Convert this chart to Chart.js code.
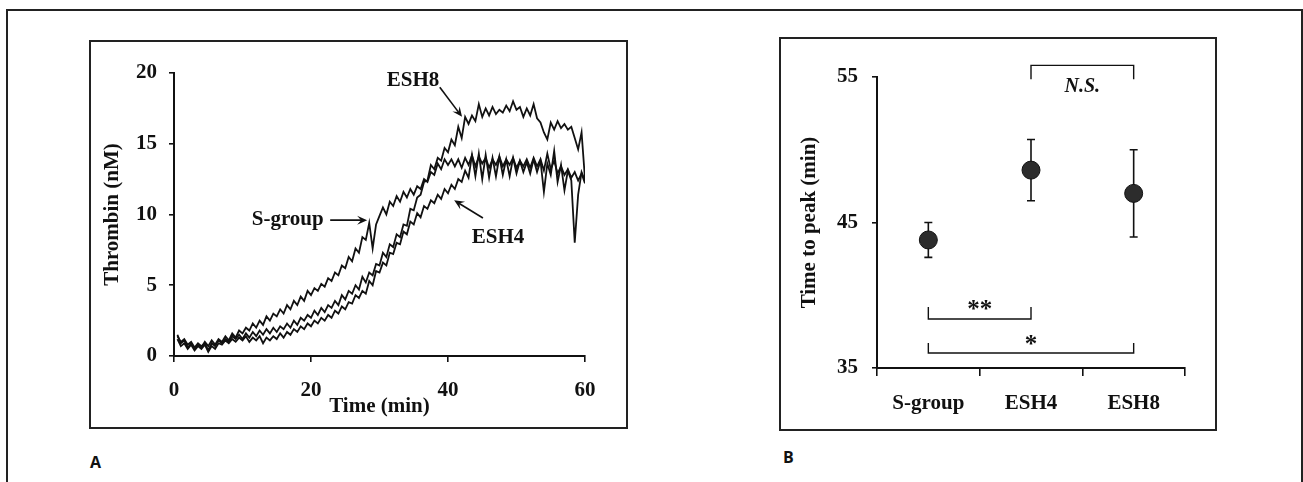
<!DOCTYPE html>
<html>
<head>
<meta charset="utf-8">
<script src="https://cdn.jsdelivr.net/npm/chart.js@4.4.0/dist/chart.umd.min.js"></script>
<style>
  body { margin: 0; background: #fff; width: 1303px; height: 482px; overflow: hidden; position: relative; }
  .frame { position: absolute; left: 6px; top: 9px; width: 1293px; height: 480px; border: 2px solid #222; border-bottom: none; }
  .box { position: absolute; border: 2px solid #222; box-sizing: border-box; }
  #boxA { left: 89px; top: 40px; width: 539px; height: 389px; }
  #boxB { left: 779px; top: 37px; width: 438px; height: 394px; }
  canvas { position: absolute; }
  #chartA { left: 91px; top: 41px; }
  #chartB { left: 780px; top: 38px; }
  .tag { position: absolute; font: bold 16px "Open Sans", sans-serif; color: #111; }
</style>
</head>
<body>
<div class="frame"></div>
<div class="box" id="boxA"></div>
<div class="box" id="boxB"></div>
<canvas id="chartA" width="536" height="387"></canvas>
<canvas id="chartB" width="436" height="392"></canvas>
<div class="tag" style="left:90px; top:451px;">A</div>
<div class="tag" style="left:783px; top:446px;">B</div>
<script>
// ---- panel A: thrombin generation curves ----
const timeMin = [
  0.5, 1, 1.5, 2, 2.5, 3, 3.5, 4, 4.5, 5,
  5.5, 6, 6.5, 7, 7.5, 8, 8.5, 9, 9.5, 10,
  10.5, 11, 11.5, 12, 12.5, 13, 13.5, 14, 14.5, 15,
  15.5, 16, 16.5, 17, 17.5, 18, 18.5, 19, 19.5, 20,
  20.5, 21, 21.5, 22, 22.5, 23, 23.5, 24, 24.5, 25,
  25.5, 26, 26.5, 27, 27.5, 28, 28.5, 29, 29.5, 30,
  30.5, 31, 31.5, 32, 32.5, 33, 33.5, 34, 34.5, 35,
  35.5, 36, 36.5, 37, 37.5, 38, 38.5, 39, 39.5, 40,
  40.5, 41, 41.5, 42, 42.5, 43, 43.5, 44, 44.5, 45,
  45.5, 46, 46.5, 47, 47.5, 48, 48.5, 49, 49.5, 50,
  50.5, 51, 51.5, 52, 52.5, 53, 53.5, 54, 54.5, 55,
  55.5, 56, 56.5, 57, 57.5, 58, 58.5, 59, 59.5, 60
];
const sGroup = [
  1.5, 0.9, 1.1, 0.6, 0.9, 0.5, 0.8, 0.6, 1.0, 0.7,
  1.1, 0.8, 1.2, 1.0, 1.4, 1.1, 1.6, 1.3, 1.8, 1.6,
  2.0, 1.8, 2.3, 2.0, 2.5, 2.2, 2.8, 2.5, 3.0, 2.8,
  3.3, 3.0, 3.6, 3.3, 3.9, 3.6, 4.2, 3.9, 4.6, 4.3,
  4.8, 4.6, 5.1, 4.9, 5.5, 5.3, 5.9, 5.7, 6.4, 6.2,
  7.0, 6.7, 7.6, 7.3, 8.4, 8.2, 9.4, 7.6, 9.3, 9.9,
  10.5, 10.0, 10.9, 10.6, 11.3, 10.9, 11.6, 11.2, 11.8, 11.4,
  12.0, 11.8, 12.5, 12.3, 13.0, 12.8, 13.6, 13.2, 13.9, 13.5,
  13.9, 13.4, 13.9, 13.3, 14.0, 13.5, 14.2, 13.4, 14.1, 13.6,
  14.0, 13.3, 13.9, 13.5, 14.1, 13.4, 13.9, 13.5, 14.0, 13.3,
  13.8, 13.4, 13.9, 13.3, 14.0, 13.4, 13.9, 13.1, 14.3, 13.2,
  13.8, 12.9, 13.4, 12.8, 13.2, 12.6, 13.0, 12.4, 12.9, 12.2
];
const esh4 = [
  1.2, 0.7, 0.9, 0.5, 0.8, 0.4, 0.7, 0.5, 0.8, 0.3,
  0.7, 0.5, 0.9, 0.8, 1.1, 0.9, 1.2, 1.0, 1.3, 1.1,
  1.4, 1.0, 1.3, 1.1, 1.4, 0.9, 1.3, 1.1, 1.4, 1.2,
  1.6, 1.3, 1.7, 1.5, 1.9, 1.7, 2.1, 1.9, 2.3, 2.1,
  2.5, 2.3, 2.7, 2.5, 2.9, 2.7, 3.2, 3.0, 3.5, 3.3,
  3.8, 3.7, 4.3, 4.1, 4.6, 4.4, 5.3, 5.0, 6.0, 5.9,
  6.6, 6.4, 7.3, 7.2, 8.0, 7.9, 8.8, 8.6, 9.5, 9.3,
  10.1, 9.8, 10.6, 10.4, 11.0, 10.8, 11.4, 11.1, 11.8, 11.5,
  12.1, 11.8, 12.5, 12.3, 13.1, 12.6, 14.2, 12.7, 14.3, 12.5,
  14.2, 12.6, 14.0, 12.7, 14.1, 12.8, 13.9, 12.7, 14.0, 12.9,
  13.8, 13.0, 13.7, 12.9, 13.9, 13.0, 13.8, 11.6, 13.6, 12.8,
  14.5, 12.3, 13.5, 11.7, 13.1, 12.4, 8.0, 11.4, 13.0, 12.4
];
const esh8 = [
  1.4, 1.0, 1.2, 0.8, 1.0, 0.6, 0.9, 0.7, 0.9, 0.4,
  0.9, 0.7, 1.1, 0.9, 1.2, 1.0, 1.4, 1.2, 1.5, 1.2,
  1.6, 1.3, 1.7, 1.4, 1.8, 1.5, 1.9, 1.6, 2.0, 1.7,
  2.1, 1.9, 2.3, 2.0, 2.5, 2.2, 2.7, 2.5, 2.9, 2.7,
  3.2, 2.9, 3.4, 3.1, 3.6, 3.4, 3.9, 3.6, 4.3, 4.0,
  4.6, 4.4, 5.0, 4.7, 5.6, 5.2, 5.9, 5.7, 6.5, 6.4,
  7.3, 7.0, 7.9, 7.7, 8.6, 8.4, 9.3, 9.2, 10.4, 10.3,
  11.2, 11.4, 12.3, 12.4, 13.5, 13.2, 14.0, 13.8, 14.7, 14.4,
  15.3, 14.9, 16.2, 15.4, 16.9, 16.4, 17.0, 16.6, 17.8, 16.9,
  17.5, 17.0, 17.6, 17.1, 17.4, 17.2, 17.7, 17.3, 18.0, 17.4,
  17.6, 16.9, 17.5, 17.0, 17.8, 16.8, 16.5, 15.8, 15.3, 16.5,
  16.0, 16.6, 16.1, 16.4, 16.0, 16.2, 15.4, 14.6, 15.8, 12.5
];
const xTicksA = [0, 20, 40, 60];
const yTicksA = [0, 5, 10, 15, 20];

// curve labels and their arrows (data units)
const noteText = ['ESH8', 'S-group', 'ESH4'];
const noteX = [34.9, 16.6, 47.3];
const noteY = [19.45, 9.65, 8.35];
const arrowFromX = [38.8, 22.8, 45.1];
const arrowFromY = [19.0, 9.6, 9.75];
const arrowToX = [42.05, 28.2, 40.9];
const arrowToY = [16.9, 9.6, 11.0];

// ---- panel B: time to peak ----
const groups = ['S-group', 'ESH4', 'ESH8'];
const peakMean = [43.8, 48.6, 47.0];
const peakSd = [1.2, 2.1, 3.0];
const yTicksB = [35, 45, 55];
const sigFrom = [0, 0, 1];
const sigTo = [1, 2, 2];
const sigText = ['**', '*', 'N.S.'];
const sigLineY = [38.37, 36.03, 55.8];
const sigLegY = [39.2, 36.72, 54.85];
const sigTextY = [38.5, 36.1, 53.97];

const INK = '#111';
const SERIF = '"Liberation Serif", "Times New Roman", serif';
Chart.defaults.font.family = SERIF;
Chart.defaults.font.size = 21;
Chart.defaults.font.weight = 'bold';
Chart.defaults.color = INK;

function axisStyle(tickLen, pad) {
  return {
    border: { display: true, color: INK, width: 2 },
    grid: { drawOnChartArea: false, drawTicks: true, tickLength: tickLen, color: INK, lineWidth: 1.6 },
    ticks: { padding: pad, color: INK, font: { size: 21, weight: 'bold' } }
  };
}

function drawArrow(ctx, x0, y0, x1, y1) {
  const a = Math.atan2(y1 - y0, x1 - x0);
  const len = 11, spread = 0.42;
  ctx.beginPath();
  ctx.moveTo(x0, y0);
  ctx.lineTo(x1 - Math.cos(a) * 5, y1 - Math.sin(a) * 5);
  ctx.stroke();
  ctx.beginPath();
  ctx.moveTo(x1, y1);
  ctx.lineTo(x1 - len * Math.cos(a - spread), y1 - len * Math.sin(a - spread));
  ctx.lineTo(x1 - len * 0.55 * Math.cos(a), y1 - len * 0.55 * Math.sin(a));
  ctx.lineTo(x1 - len * Math.cos(a + spread), y1 - len * Math.sin(a + spread));
  ctx.closePath();
  ctx.fill();
}

const notesA = {
  id: 'notesA',
  afterDatasetsDraw(chart) {
    const { ctx, scales: { x, y } } = chart;
    ctx.save();
    ctx.fillStyle = INK;
    ctx.strokeStyle = INK;
    ctx.lineWidth = 1.6;
    ctx.font = 'bold 21px ' + SERIF;
    ctx.textAlign = 'center';
    ctx.textBaseline = 'middle';
    noteText.forEach((t, i) => {
      ctx.fillText(t, x.getPixelForValue(noteX[i]), y.getPixelForValue(noteY[i]));
      drawArrow(ctx,
        x.getPixelForValue(arrowFromX[i]), y.getPixelForValue(arrowFromY[i]),
        x.getPixelForValue(arrowToX[i]), y.getPixelForValue(arrowToY[i]));
    });
    ctx.restore();
  }
};

const lineSet = (label, vals) => ({
  label,
  data: timeMin.map((t, i) => ({ x: t, y: vals[i] })),
  borderColor: INK,
  borderWidth: 1.8,
  pointRadius: 0,
  tension: 0,
  fill: false
});

const axA_x = axisStyle(6, 16);
const axA_y = axisStyle(5, 12);

new Chart(document.getElementById('chartA'), {
  type: 'line',
  data: { datasets: [lineSet('S-group', sGroup), lineSet('ESH4', esh4), lineSet('ESH8', esh8)] },
  options: {
    responsive: false,
    animation: false,
    events: [],
    layout: { padding: { left: 0, top: 32, right: 42, bottom: 0 } },
    plugins: { legend: { display: false }, tooltip: { enabled: false } },
    scales: {
      x: Object.assign(axA_x, {
        type: 'linear', min: 0, max: 60,
        afterBuildTicks: s => { s.ticks = xTicksA.map(v => ({ value: v })); },
        title: { display: true, text: 'Time (min)', color: INK, font: { size: 21, weight: 'bold' }, padding: { top: 0, bottom: 9 } },
        afterFit: s => { s.height = 72; }
      }),
      y: Object.assign(axA_y, {
        type: 'linear', min: 0, max: 20,
        afterBuildTicks: s => { s.ticks = yTicksA.map(v => ({ value: v })); },
        title: { display: true, text: 'Thrombin (nM)', color: INK, font: { size: 21, weight: 'bold' }, padding: { top: 9, bottom: 0 } },
        afterFit: s => { s.width = 83; }
      })
    }
  },
  plugins: [notesA]
});

// ---- panel B drawing ----
const errorBars = {
  id: 'errorBars',
  beforeDatasetsDraw(chart) {
    const { ctx, scales: { x, y } } = chart;
    ctx.save();
    ctx.strokeStyle = INK;
    ctx.lineWidth = 1.6;
    peakMean.forEach((m, i) => {
      const px = x.getPixelForValue(i);
      const top = y.getPixelForValue(m + peakSd[i]);
      const bot = y.getPixelForValue(m - peakSd[i]);
      ctx.beginPath();
      ctx.moveTo(px, top); ctx.lineTo(px, bot);
      ctx.moveTo(px - 4, top); ctx.lineTo(px + 4, top);
      ctx.moveTo(px - 4, bot); ctx.lineTo(px + 4, bot);
      ctx.stroke();
    });
    ctx.restore();
  }
};

const brackets = {
  id: 'brackets',
  afterDatasetsDraw(chart) {
    const { ctx, scales: { x, y } } = chart;
    ctx.save();
    ctx.strokeStyle = INK;
    ctx.fillStyle = INK;
    ctx.lineWidth = 1.4;
    ctx.textAlign = 'center';
    ctx.textBaseline = 'alphabetic';
    sigText.forEach((t, i) => {
      const x0 = x.getPixelForValue(sigFrom[i]);
      const x1 = x.getPixelForValue(sigTo[i]);
      const yl = y.getPixelForValue(sigLineY[i]);
      const yg = y.getPixelForValue(sigLegY[i]);
      ctx.beginPath();
      ctx.moveTo(x0, yg); ctx.lineTo(x0, yl); ctx.lineTo(x1, yl); ctx.lineTo(x1, yg);
      ctx.stroke();
      ctx.font = (t === 'N.S.' ? 'italic bold 20px ' : 'bold 25px ') + SERIF;
      ctx.fillText(t, (x0 + x1) / 2, y.getPixelForValue(sigTextY[i]));
    });
    ctx.restore();
  }
};

const axB_x = axisStyle(8, 15);
const axB_y = axisStyle(5, 14);

new Chart(document.getElementById('chartB'), {
  type: 'line',
  data: {
    labels: groups,
    datasets: [{
      label: 'Time to peak',
      data: peakMean,
      showLine: false,
      pointRadius: 9,
      pointHoverRadius: 9,
      pointBackgroundColor: '#2c2c2c',
      pointBorderColor: INK,
      pointBorderWidth: 1
    }]
  },
  options: {
    responsive: false,
    animation: false,
    events: [],
    layout: { padding: { left: 0, top: 39, right: 31, bottom: 0 } },
    plugins: { legend: { display: false }, tooltip: { enabled: false } },
    scales: {
      x: Object.assign(axB_x, {
        type: 'category', offset: true,
        grid: Object.assign(axB_x.grid, { offset: true }),
        afterFit: s => { s.height = 62; }
      }),
      y: Object.assign(axB_y, {
        type: 'linear', min: 35, max: 55,
        afterBuildTicks: s => { s.ticks = yTicksB.map(v => ({ value: v })); },
        title: { display: true, text: 'Time to peak (min)', color: INK, font: { size: 21, weight: 'bold' }, padding: { top: 17, bottom: 0 } },
        afterFit: s => { s.width = 97; }
      })
    }
  },
  plugins: [errorBars, brackets]
});
</script>
</body>
</html>
